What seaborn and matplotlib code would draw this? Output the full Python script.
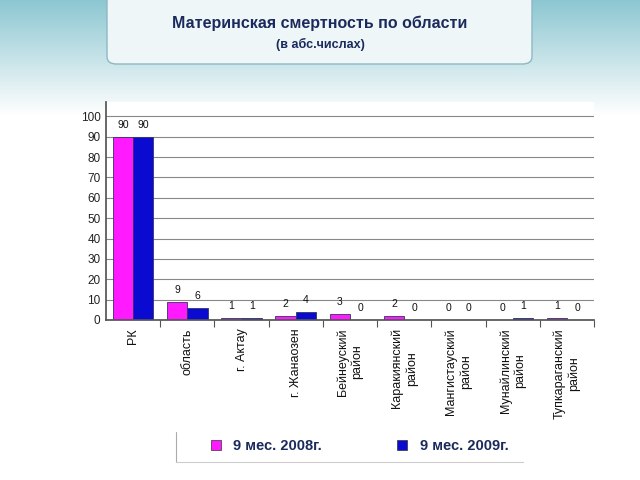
import numpy as np
import pandas as pd
import matplotlib
matplotlib.use("Agg")
import matplotlib.pyplot as plt
from matplotlib.patches import FancyBboxPatch
from matplotlib.lines import Line2D
import seaborn as sns

categories = ["РК", "область", "г. Актау", "г. Жанаозен", "Бейнеуский\nрайон",
              "Каракиянский\nрайон", "Мангистауский\nрайон", "Мунайлинский\nрайон",
              "Тупкараганский\nрайон"]
series_names = ["9 мес. 2008г.", "9 мес. 2009г."]
values_2008 = [90, 9, 1, 2, 3, 2, 0, 0, 1]
values_2009 = [90, 6, 1, 4, 0, 0, 0, 1, 0]
y_ticks = [0, 10, 20, 30, 40, 50, 60, 70, 80, 90, 100]

df = pd.DataFrame({
    "cat": categories * 2,
    "series": [series_names[0]] * len(categories) + [series_names[1]] * len(categories),
    "value": values_2008 + values_2009,
})

sns.set_theme(style="white")
plt.rcParams["font.family"] = ["Liberation Sans", "DejaVu Sans"]

fig = plt.figure(figsize=(6.4, 4.8), dpi=100)

# background header gradient
bg = fig.add_axes([0, 0, 1, 1], zorder=-10)
grad = np.ones((480, 1, 3))
top = np.array([0.55, 0.78, 0.82])
for i in range(480):
    t = min(i / 115.0, 1.0)
    grad[i, 0, :] = top * (1 - t) + np.array([1, 1, 1]) * t
bg.imshow(grad, aspect="auto", extent=[0, 1, 0, 1])
bg.set_xlim(0, 1); bg.set_ylim(0, 1); bg.axis("off")
box = FancyBboxPatch((107 / 640, 1 - 64 / 480), 425 / 640, 70 / 480,
                     boxstyle="round,pad=0,rounding_size=0.015",
                     transform=bg.transAxes, facecolor="#eef6f8",
                     edgecolor="#8fb8c2", linewidth=1.0)
bg.add_patch(box)

fig.text(0.5, 1 - 23 / 480, "Материнская смертность по области", ha="center", va="center",
         fontsize=11.5, fontweight="bold", color="#1b2a5c")
fig.text(0.5, 1 - 44 / 480, "(в абс.числах)", ha="center", va="center",
         fontsize=9, fontweight="bold", color="#1b2a5c")

ax = fig.add_axes([106 / 640, 1 - 320 / 480, 488 / 640, 218 / 480])
palette = {series_names[0]: "#ff1aff", series_names[1]: "#0a0ad0"}
sns.barplot(data=df, x="cat", y="value", hue="series", palette=palette, ax=ax,
            width=0.75, saturation=1, edgecolor="#333366", linewidth=0.6, legend=False)
ax.set_ylim(0, 107)
ax.set_xlim(-0.5, len(categories) - 0.5)
ax.set_yticks(y_ticks)
ax.set_yticklabels([str(t) for t in y_ticks], fontsize=8.5, color="#222222")
ax.yaxis.grid(True, color="#888888", linewidth=0.8)
ax.set_axisbelow(True)
ax.set_xlabel(""); ax.set_ylabel("")
ax.set_xticks(range(len(categories)))
ax.set_xticklabels(categories, rotation=90, fontsize=9, color="#111111", va="top")
ax.set_xticks([i + 0.5 for i in range(len(categories))], minor=True)
ax.tick_params(axis="x", which="major", length=0, pad=6)
ax.tick_params(axis="x", which="minor", length=5, width=0.8, color="#555555", bottom=True)
ax.tick_params(axis="y", length=0, pad=4)
for s in ["top", "right"]:
    ax.spines[s].set_visible(False)
ax.spines["left"].set_color("#555555")
ax.spines["bottom"].set_color("#555555")
ax.set_facecolor("white")

for cont in ax.containers:
    ax.bar_label(cont, labels=[f"{int(v)}" for v in cont.datavalues], padding=5,
                 fontsize=7.5, color="#111111")

# legend
handles = [Line2D([0], [0], marker="s", linestyle="", markersize=7,
                  markerfacecolor=palette[n], markeredgecolor="#333333", markeredgewidth=0.5)
           for n in series_names]
leg = fig.legend(handles, series_names, loc="center", bbox_to_anchor=(355 / 640, 1 - 446 / 480),
                 ncol=2, frameon=False, columnspacing=4.5, handletextpad=0.2,
                 prop={"weight": "bold", "size": 10.5})
for t in leg.get_texts():
    t.set_color("#1b2a5c")
bg.plot([176 / 640, 176 / 640], [1 - 432 / 480, 1 - 462 / 480], color="#aaaaaa", lw=0.8)
bg.plot([176 / 640, 523 / 640], [1 - 462 / 480, 1 - 462 / 480], color="#cccccc", lw=0.8)

fig.savefig("out.png", dpi=100)
